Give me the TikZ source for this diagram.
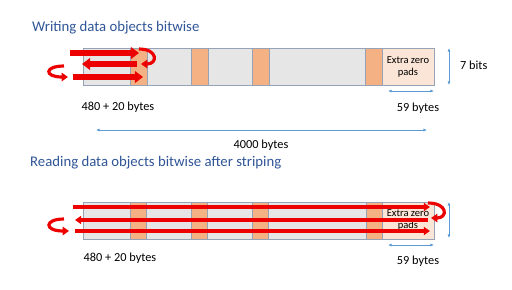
\documentclass[tikz,border=0pt]{standalone}
\usepackage{fontspec}
\setmainfont{Carlito}
\usetikzlibrary{arrows.meta,positioning}
\definecolor{titleblue}{RGB}{47,85,151}
\definecolor{bargray}{RGB}{231,230,230}
\definecolor{barline}{RGB}{150,163,182}
\definecolor{segorange}{RGB}{244,177,131}
\definecolor{padpeach}{RGB}{251,229,214}
\definecolor{flowred}{RGB}{236,0,0}
\definecolor{dimblue}{RGB}{91,155,213}

\begin{document}
\begin{tikzpicture}[x=0.02cm,y=-0.02cm,font=\fontsize{7}{8}\selectfont,
    bar/.style={draw=barline, fill=bargray},
    seg/.style={draw=barline, fill=segorange},
    pad/.style={draw=barline, fill=padpeach},
    flow/.style={draw=flowred, line width=3.4pt, -{Triangle[length=4.6pt,width=6.6pt]}},
    thinflow/.style={draw=flowred, line width=2.4pt, -{Triangle[length=3.5pt,width=4.6pt]}},
    turn/.style={draw=flowred, line width=1.8pt, -{Triangle[length=3.6pt,width=4.8pt]}},
    dim/.style={draw=dimblue, line width=0.35pt, {Latex[length=2pt,width=1.6pt]}-{Latex[length=2pt,width=1.6pt]}},
    heading/.style={text=titleblue, font=\fontsize{8.4}{9}\selectfont, anchor=west},
    padtext/.style={align=center, font=\fontsize{6}{7.2}\selectfont}]
    \useasboundingbox (0,0) rectangle (512,289);

    \node[heading] (wtitle) at (26,28) {Writing data objects bitwise};
    \draw[bar] (83,48) rectangle (382,85);
    \foreach \x in {130,191,252,365} \draw[seg] (\x,48) rectangle ++(17,37);
    \draw[pad] (382,48) rectangle (434,85);
    \node[padtext] (wpads) at (408,67) {Extra zero\\pads};
    \draw[flow] (70,53) -- (139,53);
    \draw[turn] (139,49) .. controls (158,49) and (158,64) .. (141,64);
    \draw[flow] (137,64) -- (82,64);
    \draw[turn] (64,66) .. controls (44,66) and (44,77) .. (68,77);
    \draw[flow] (73,77) -- (143,77);
    \coordinate (wtop) at (449,48);
    \coordinate (wbot) at (449,85);
    \draw[dim] (wtop) -- (wbot);
    \node[anchor=west] (wbits) at (454,65) {7 bits};
    \coordinate (wpadl) at (388,91);
    \coordinate (wpadr) at (434,91);
    \draw[dim] (wpadl) -- (wpadr);
    \node (wpadsize) at (418,108) {59 bytes};
    \node (wobj) at (118,107) {480 + 20 bytes};
    \coordinate (wfulll) at (96,130);
    \coordinate (wfullr) at (427,130);
    \draw[dim] (wfulll) -- (wfullr);
    \node (wfull) at (261,145) {4000 bytes};

    \node[heading] (rtitle) at (24,163) {Reading data objects bitwise after striping};
    \draw[bar] (83,202) rectangle (382,239);
    \foreach \x in {130,191,252,366} \draw[seg] (\x,202) rectangle ++(16.5,37);
    \draw[pad] (382,202) rectangle (434,239);
    \node[padtext] (rpads) at (408,220) {Extra zero\\pads};
    \draw[thinflow] (73,207) -- (430,207);
    \draw[turn] (428,203) .. controls (448,203) and (448,218) .. (431,218);
    \draw[thinflow] (428,220) -- (75,220);
    \draw[turn] (64,219) .. controls (44,219) and (44,231) .. (69,231);
    \draw[thinflow] (75,231) -- (430,231);
    \coordinate (rtop) at (449,202);
    \coordinate (rbot) at (449,238);
    \draw[dim] (rtop) -- (rbot);
    \coordinate (rpadl) at (388,245);
    \coordinate (rpadr) at (434,245);
    \draw[dim] (rpadl) -- (rpadr);
    \node (rpadsize) at (418,261) {59 bytes};
    \node (robj) at (120,258) {480 + 20 bytes};
\end{tikzpicture}
\end{document}
